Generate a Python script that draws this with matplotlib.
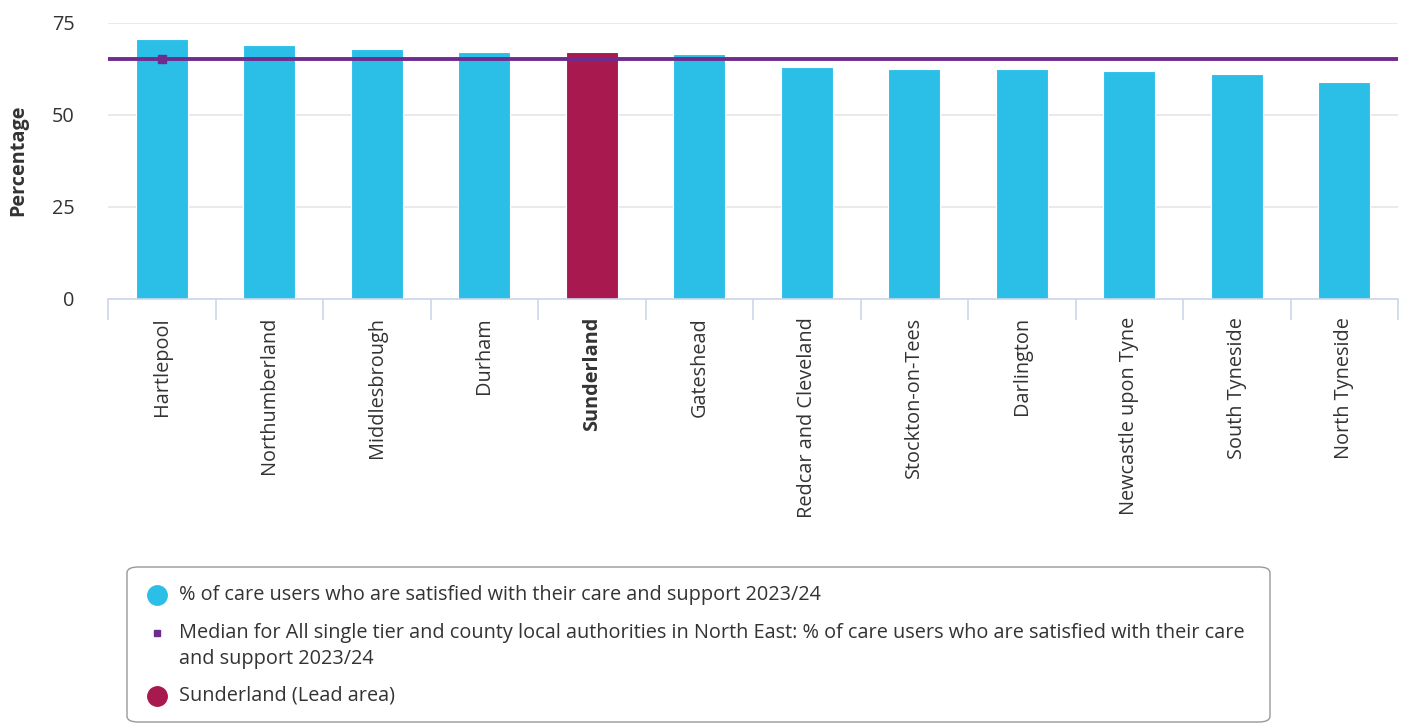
import matplotlib
matplotlib.use("Agg")
import matplotlib.pyplot as plt
from matplotlib.patches import FancyBboxPatch

plt.rcParams['font.family'] = ['Open Sans', 'DejaVu Sans']

areas = ["Hartlepool", "Northumberland", "Middlesbrough", "Durham", "Sunderland",
         "Gateshead", "Redcar and Cleveland", "Stockton-on-Tees", "Darlington",
         "Newcastle upon Tyne", "South Tyneside", "North Tyneside"]
values = [70.7, 68.9, 67.9, 67.0, 67.0, 66.5, 62.9, 62.4, 62.4, 62.0, 61.1, 58.9]
median_value = 65.1
lead_area = "Sunderland"
yticks = [0, 25, 50, 75]

legend_labels = [
    "% of care users who are satisfied with their care and support 2023/24",
    "Median for All single tier and county local authorities in North East: % of care users who are satisfied with their care\nand support 2023/24",
    "Sunderland (Lead area)",
]

BLUE = "#2bbfe8"
RED = "#a8194f"
PURPLE = "#6f2c8f"
TXT = "#333333"
FS = 14.3

W, H = 1406, 724
fig = plt.figure(figsize=(W / 100, H / 100), dpi=100)
ax = fig.add_axes([108 / W, 1 - 299 / H, (1398 - 108) / W, (299 - 22.7) / H])

x = list(range(len(areas)))
colors = [RED if a == lead_area else BLUE for a in areas]
ax.bar(x, values, width=0.48, color=colors, edgecolor="white", linewidth=0.8, zorder=2)
ax.axhline(median_value, color=PURPLE, linewidth=2.8, zorder=3)
ax.plot([0], [median_value], marker="s", markersize=6, color=PURPLE, zorder=4, linestyle="none")

ax.set_xlim(-0.5, len(areas) - 0.5)
ax.set_ylim(0, 75)
ax.set_yticks(yticks)
ax.set_yticklabels([str(t) for t in yticks], fontsize=FS, color=TXT)
ax.tick_params(axis="y", length=0, pad=24)
ax.yaxis.grid(True, color="#e6e6e6", linewidth=1.2, zorder=0)
ax.set_axisbelow(True)

ax.set_xticks(x)
ax.set_xticklabels(areas, rotation=90, fontsize=FS, color=TXT, va="top", ha="center")
ax.tick_params(axis="x", length=0, pad=13)
for lbl in ax.get_xticklabels():
    if lbl.get_text() == lead_area:
        lbl.set_fontweight("bold")
ax.set_xticks([i - 0.5 for i in range(len(areas) + 1)], minor=True)
ax.tick_params(axis="x", which="minor", length=15, color="#ccd6eb", width=1.2)

for s in ["top", "right", "left"]:
    ax.spines[s].set_visible(False)
ax.spines["bottom"].set_color("#ccd6eb")
ax.spines["bottom"].set_linewidth(1.2)

fig.text(18 / W, 1 - 160 / H, "Percentage", rotation=90, fontsize=FS, fontweight="bold",
         color=TXT, ha="center", va="center")

# Legend box
box = FancyBboxPatch((127 / W, 1 - 722 / H), (1270 - 127) / W, (722 - 567) / H,
                     boxstyle="round,pad=0,rounding_size=0.008", transform=fig.transFigure,
                     facecolor="white", edgecolor="#999999", linewidth=1.0)
fig.patches.append(box)
fig.add_artist(plt.Line2D([157 / W], [1 - 595 / H], marker="o", markersize=14, color=BLUE,
                          transform=fig.transFigure, linestyle="none"))
fig.add_artist(plt.Line2D([157 / W], [1 - 633 / H], marker="s", markersize=5, color=PURPLE,
                          transform=fig.transFigure, linestyle="none"))
fig.add_artist(plt.Line2D([157 / W], [1 - 696 / H], marker="o", markersize=14, color=RED,
                          transform=fig.transFigure, linestyle="none"))
fig.text(179 / W, 1 - 595 / H, legend_labels[0], fontsize=FS, color=TXT, va="center", ha="left")
fig.text(179 / W, 1 - 646 / H, legend_labels[1], fontsize=FS, color=TXT, va="center", ha="left",
         linespacing=1.35)
fig.text(179 / W, 1 - 696 / H, legend_labels[2], fontsize=FS, color=TXT, va="center", ha="left")

fig.savefig("out.png", dpi=100, facecolor="white")
